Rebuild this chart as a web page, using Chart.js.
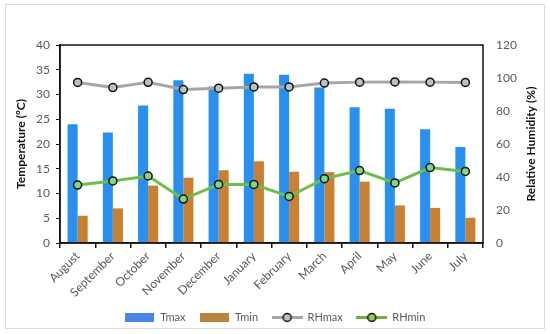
<!DOCTYPE html>
<html>
<head>
<meta charset="utf-8">
<script src="https://cdn.jsdelivr.net/npm/chart.js@4.4.1/dist/chart.umd.min.js"></script>
<style>
  html, body { margin: 0; padding: 0; background: #fff; }
  #wrap { position: relative; width: 550px; height: 334px; }
  #frame { position: absolute; left: 5px; top: 4px; width: 538px; height: 323px; border: 1px solid #d9d9d9; pointer-events: none; }
</style>
</head>
<body>
<div id="wrap">
  <canvas id="climateChart" width="550" height="334"></canvas>
  <div id="frame"></div>
</div>
<script>
// Monthly climate data
const months = ['August', 'September', 'October', 'November', 'December', 'January',
  'February', 'March', 'April', 'May', 'June', 'July'];
const tmax = [24.0, 22.3, 27.8, 32.9, 31.6, 34.2, 34.0, 31.4, 27.4, 27.1, 23.0, 19.4];
const tmin = [5.5, 7.0, 11.6, 13.2, 14.7, 16.5, 14.4, 14.3, 12.4, 7.6, 7.1, 5.1];
const rhmax = [97.3, 94.2, 97.4, 93.0, 93.8, 94.6, 94.6, 96.9, 97.5, 97.6, 97.5, 97.3];
const rhmin = [35.1, 37.6, 40.6, 26.6, 35.5, 35.5, 28.2, 39.0, 43.9, 36.4, 45.7, 43.4];

const tempTicks = [0, 5, 10, 15, 20, 25, 30, 35, 40];
const rhTicks = [0, 20, 40, 60, 80, 100, 120];

const tickColor = '#595959';

// small legend images (box or line with marker)
function legendBox(color) {
  const c = document.createElement('canvas');
  c.width = 29; c.height = 9;
  const g = c.getContext('2d');
  g.fillStyle = color;
  g.fillRect(0, 0, 29, 9);
  return c;
}
function legendLine(color, fill) {
  const c = document.createElement('canvas');
  c.width = 31; c.height = 11;
  const g = c.getContext('2d');
  g.strokeStyle = color;
  g.lineWidth = 3;
  g.beginPath(); g.moveTo(0, 5.5); g.lineTo(31, 5.5); g.stroke();
  g.beginPath(); g.arc(15.5, 5.5, 4, 0, Math.PI * 2);
  g.fillStyle = fill; g.fill();
  g.lineWidth = 1.5; g.strokeStyle = '#111'; g.stroke();
  return c;
}

// black frame around the plot area + right axis title reading upwards
const plotFrame = {
  id: 'plotFrame',
  afterDatasetsDraw(chart) {
    const a = chart.chartArea, ctx = chart.ctx;
    ctx.save();
    ctx.strokeStyle = '#111';
    ctx.lineWidth = 1.5;
    ctx.strokeRect(a.left, a.top, a.right - a.left, a.bottom - a.top);
    ctx.restore();
  },
  afterDraw(chart) {
    const a = chart.chartArea, ctx = chart.ctx;
    ctx.save();
    ctx.translate(531, (a.top + a.bottom) / 2);
    ctx.rotate(-Math.PI / 2);
    ctx.fillStyle = '#111';
    ctx.font = 'bold 12px Lato';
    ctx.textAlign = 'center';
    ctx.textBaseline = 'middle';
    ctx.fillText('Relative Humidity (%)', 0, 0);
    ctx.restore();
  }
};

new Chart(document.getElementById('climateChart'), {
  type: 'bar',
  data: {
    labels: months,
    datasets: [
      { label: 'Tmax', data: tmax, backgroundColor: '#2a90f0', yAxisID: 'y', order: 2,
        barPercentage: 1, categoryPercentage: 0.57 },
      { label: 'Tmin', data: tmin, backgroundColor: '#c98033', yAxisID: 'y', order: 2,
        barPercentage: 1, categoryPercentage: 0.57 },
      { type: 'line', label: 'RHmax', data: rhmax, yAxisID: 'y1', order: 1,
        borderColor: '#a6a6a6', borderWidth: 3, pointRadius: 4, pointBorderWidth: 1.5,
        pointBorderColor: '#111', pointBackgroundColor: '#b8c4c0' },
      { type: 'line', label: 'RHmin', data: rhmin, yAxisID: 'y1', order: 0,
        borderColor: '#6cbf4a', borderWidth: 3, pointRadius: 4, pointBorderWidth: 1.5,
        pointBorderColor: '#111', pointBackgroundColor: '#7fd68a' }
    ]
  },
  options: {
    responsive: false,
    animation: false,
    layout: { padding: { top: 45, left: 0, right: 0, bottom: 1 } },
    plugins: {
      tooltip: { enabled: false },
      legend: {
        position: 'bottom',
        labels: {
          usePointStyle: true,
          pointStyleWidth: 30,
          boxHeight: 10,
          padding: 14,
          color: tickColor,
          font: { family: 'Lato', size: 11 },
          sort: (a, b) => a.datasetIndex - b.datasetIndex,
          generateLabels(chart) {
            const imgs = [legendBox('#4a86e8'), legendBox('#b8863a'),
              legendLine('#a6a6a6', '#c0c0c0'), legendLine('#70ad47', '#92d050')];
            return chart.data.datasets.map((ds, i) => ({
              text: ds.label, datasetIndex: i, pointStyle: imgs[i],
              fontColor: tickColor, hidden: false, lineWidth: 0
            }));
          }
        }
      }
    },
    scales: {
      x: {
        offset: true,
        grid: { offset: true, drawOnChartArea: false, drawTicks: true, tickLength: 5, color: '#111', lineWidth: 1.5 },
        border: { display: true, color: '#111', width: 1.5 },
        ticks: { color: tickColor, font: { family: 'Lato', size: 12 }, maxRotation: 45, minRotation: 45, padding: 1 },
        afterFit(scale) { scale.height = 55; }
      },
      y: {
        position: 'left',
        min: 0, max: 40,
        afterBuildTicks(scale) { scale.ticks = tempTicks.map(v => ({ value: v })); },
        grid: { drawOnChartArea: false, drawTicks: true, tickLength: 4, color: '#111' },
        border: { display: true, color: '#111', width: 1.5 },
        ticks: { color: tickColor, font: { family: 'Lato', size: 12 }, padding: 6 },
        title: { display: true, text: 'Temperature (ºC)', color: '#111',
          font: { family: 'Lato', size: 12, weight: 'bold' }, padding: { top: 14, bottom: 0 } },
        afterFit(scale) { scale.width = 60; }
      },
      y1: {
        position: 'right',
        min: 0, max: 120,
        afterBuildTicks(scale) { scale.ticks = rhTicks.map(v => ({ value: v })); },
        grid: { drawOnChartArea: false, drawTicks: false },
        border: { display: false },
        ticks: { color: tickColor, font: { family: 'Lato', size: 12 }, padding: 13 },
        title: { display: false },
        afterFit(scale) { scale.width = 67; }
      }
    }
  },
  plugins: [plotFrame]
});
</script>
</body>
</html>
